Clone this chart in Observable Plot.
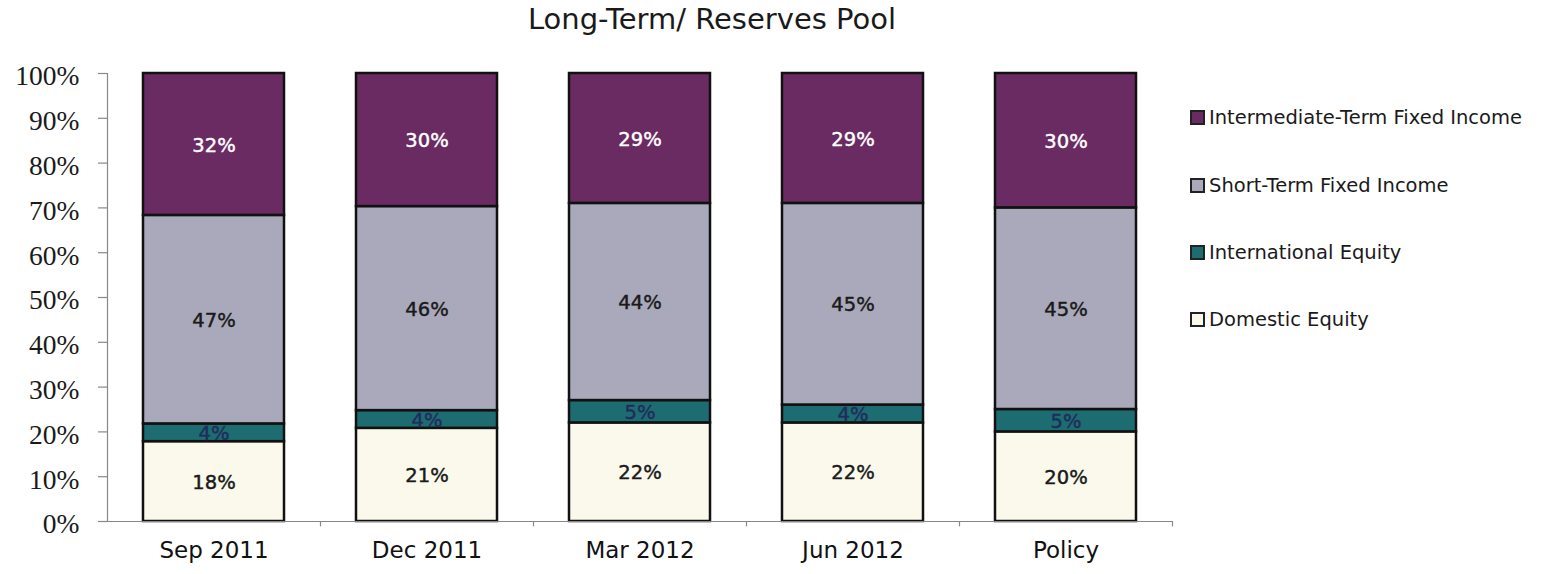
<!DOCTYPE html>
<html>
<head>
<meta charset="utf-8">
<script src="https://cdn.jsdelivr.net/npm/d3@7"></script>
<script src="https://cdn.jsdelivr.net/npm/@observablehq/plot@0.6"></script>
<style>
  html, body { margin: 0; padding: 0; background: #fff; }
  #wrap { position: relative; width: 1544px; height: 574px; overflow: hidden; }
  #title { position: absolute; left: 0; top: 2px; width: 1424px; text-align: center;
           font-family: "DejaVu Sans", sans-serif; font-size: 29px; color: #1a1a1a; }
  #legend { position: absolute; left: 1190px; top: 0; }
  .item { position: absolute; left: 0; white-space: nowrap; display: flex; align-items: center;
          font-family: "DejaVu Sans", sans-serif; font-size: 19.5px; color: #1a1a1a; }
  .sw { width: 11px; height: 11px; border: 2px solid #222; margin-right: 4px; }
  #chart { position: absolute; left: 0; top: 0; }
</style>
</head>
<body>
<div id="wrap">
  <div id="chart"></div>
  <div id="title">Long-Term/ Reserves Pool</div>
  <div id="legend"></div>
</div>
<script>
const categories = ["Sep 2011", "Dec 2011", "Mar 2012", "Jun 2012", "Policy"];
const seriesNames = ["Domestic Equity", "International Equity", "Short-Term Fixed Income", "Intermediate-Term Fixed Income"];
const domesticEquity = [18, 21, 22, 22, 20];
const internationalEquity = [4, 4, 5, 4, 5];
const shortTermFixedIncome = [47, 46, 44, 45, 45];
const intermediateTermFixedIncome = [32, 30, 29, 29, 30];
const seriesColors = ["#fbf9ec", "#1d6c71", "#a9a9bb", "#6a2b62"];
const labelColors = ["#1a1a1a", "#1f2d5c", "#1a1a1a", "#ffffff"];
const yTicks = [0, 0.1, 0.2, 0.3, 0.4, 0.5, 0.6, 0.7, 0.8, 0.9, 1];

const seriesValues = [domesticEquity, internationalEquity, shortTermFixedIncome, intermediateTermFixedIncome];
const data = [];
seriesNames.forEach((s, i) => categories.forEach((c, j) => data.push({category: c, series: s, value: seriesValues[i][j]})));

const W = 1544, H = 574;
const mL = 107, mR = 372, mT = 73, mB = 53;
const step = (W - mL - mR) / categories.length;

const stackOpts = {offset: "normalize", order: seriesNames, x: "category", y: "value"};

const plot = Plot.plot({
  width: W, height: H,
  marginLeft: mL, marginRight: mR, marginTop: mT, marginBottom: mB,
  x: {domain: categories, paddingInner: 0.34, paddingOuter: 0.17, label: null},
  y: {domain: [0, 1], label: null},
  color: {domain: seriesNames, range: seriesColors},
  style: {background: "transparent"},
  marks: [
    Plot.barY(data, Plot.stackY({...stackOpts, fill: "series", stroke: "#111", strokeWidth: 2.5})),
    Plot.text(data, Plot.stackY({...stackOpts,
      text: d => d.value + "%",
      fill: d => labelColors[seriesNames.indexOf(d.series)],
      stroke: d => labelColors[seriesNames.indexOf(d.series)],
      strokeWidth: 0.45,
      fontFamily: "DejaVu Sans", fontSize: 19.5, dy: 1})),
    Plot.ruleY([0], {stroke: "#888", strokeWidth: 1.2}),
    Plot.ruleX([categories[0]], {dx: -step / 2, y1: 0, y2: 1, stroke: "#888", strokeWidth: 1.2}),
    Plot.ruleX(categories, {dx: step / 2, y1: 0, y2: -0.012, stroke: "#888", strokeWidth: 1.2}),
    Plot.axisY({ticks: yTicks, tickFormat: () => "", tickSize: 9, stroke: "#888", strokeWidth: 1.2}),
    Plot.axisY({ticks: yTicks, tickFormat: d3.format(".0%"), tickSize: 0, tickPadding: 28, dy: 3,
      fontFamily: "Liberation Serif", fontSize: 27.5, fill: "#1a1a1a"}),
    Plot.axisX({tickSize: 0, tickPadding: 20, fontFamily: "DejaVu Sans", fontSize: 23, fill: "#111"})
  ]
});
document.getElementById("chart").appendChild(plot);

// legend
const legendY = [118, 186, 253, 320];
const legendOrder = [3, 2, 1, 0];
const legend = document.getElementById("legend");
legendOrder.forEach((si, k) => {
  const it = document.createElement("div");
  it.className = "item";
  it.style.top = (legendY[k] - 12) + "px";
  const sw = document.createElement("span");
  sw.className = "sw";
  sw.style.background = seriesColors[si];
  const tx = document.createElement("span");
  tx.textContent = seriesNames[si];
  it.appendChild(sw); it.appendChild(tx);
  legend.appendChild(it);
});
</script>
</body>
</html>
